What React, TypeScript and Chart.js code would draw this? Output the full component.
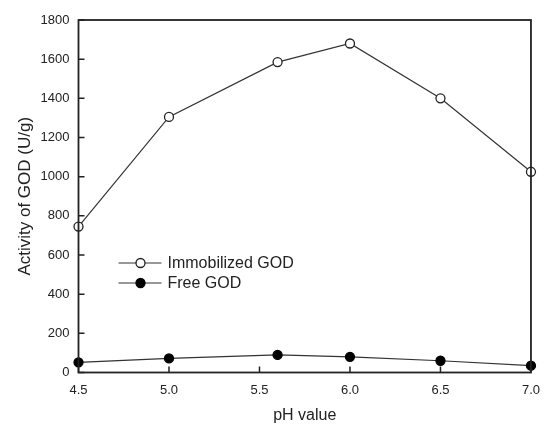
import React, { useEffect, useRef } from "react";
import { Chart, registerables } from "chart.js";

Chart.register(...registerables);

const phValues = [4.5, 5.0, 5.6, 6.0, 6.5, 7.0];
const immobilized = [745, 1305, 1585, 1680, 1400, 1025];
const free = [52, 72, 90, 80, 60, 35];
const seriesNames = ["Immobilized GOD", "Free GOD"];
const xTitle = "pH value";
const yTitle = "Activity of GOD (U/g)";

const FONT = "'Liberation Sans', Arial, sans-serif";
const INK = "#222";

const framePlugin = {
  id: "frameTicks",
  afterDraw(chart: any) {
    const { ctx, chartArea: a, scales } = chart;
    ctx.save();
    ctx.strokeStyle = INK;
    ctx.lineWidth = 1.5;
    ctx.beginPath();
    scales.x.ticks.forEach((t: any) => {
      const px = scales.x.getPixelForValue(t.value);
      ctx.moveTo(px, a.bottom);
      ctx.lineTo(px, a.bottom - 6);
    });
    scales.y.ticks.forEach((t: any) => {
      const py = scales.y.getPixelForValue(t.value);
      ctx.moveTo(a.left, py);
      ctx.lineTo(a.left + 6, py);
    });
    ctx.stroke();
    ctx.lineWidth = 1.8;
    ctx.strokeRect(a.left, a.top, a.right - a.left, a.bottom - a.top);

    const lx = a.left + 40;
    let ly = a.top + 243;
    ctx.font = `16px ${FONT}`;
    ctx.textBaseline = "middle";
    ctx.textAlign = "left";
    chart.data.datasets.forEach((ds: any) => {
      ctx.strokeStyle = ds.borderColor;
      ctx.lineWidth = ds.borderWidth;
      ctx.beginPath();
      ctx.moveTo(lx, ly);
      ctx.lineTo(lx + 43, ly);
      ctx.stroke();
      ctx.beginPath();
      ctx.arc(lx + 22, ly, 4.5, 0, Math.PI * 2);
      ctx.fillStyle = ds.pointBackgroundColor;
      ctx.fill();
      ctx.lineWidth = 1.3;
      ctx.strokeStyle = ds.pointBorderColor;
      ctx.stroke();
      ctx.fillStyle = INK;
      ctx.fillText(ds.label, lx + 49, ly + 1);
      ly += 20;
    });
    ctx.restore();
  },
};

export default function App() {
  const ref = useRef<HTMLCanvasElement>(null);
  useEffect(() => {
    document.body.style.margin = "0";
    const chart = new Chart(ref.current as HTMLCanvasElement, {
      type: "line",
      data: {
        datasets: [
          {
            label: seriesNames[0],
            data: phValues.map((x, i) => ({ x, y: immobilized[i] })),
            borderColor: "#333",
            borderWidth: 1.2,
            pointBackgroundColor: "#fff",
            pointBorderColor: "#222",
            pointBorderWidth: 1.3,
            pointRadius: 4.5,
            clip: false as any,
          },
          {
            label: seriesNames[1],
            data: phValues.map((x, i) => ({ x, y: free[i] })),
            borderColor: "#333",
            borderWidth: 1.2,
            pointBackgroundColor: "#000",
            pointBorderColor: "#000",
            pointBorderWidth: 1.3,
            pointRadius: 4.5,
            clip: false as any,
          },
        ],
      },
      options: {
        animation: false,
        responsive: false,
        layout: { padding: { top: 20, right: 11, left: 0, bottom: 0 } },
        plugins: { legend: { display: false }, tooltip: { enabled: false } },
        scales: {
          x: {
            type: "linear",
            min: 4.5,
            max: 7,
            ticks: {
              stepSize: 0.5,
              callback: (v: any) => Number(v).toFixed(1),
              font: { family: FONT, size: 13 },
              color: INK,
              padding: 10,
              maxRotation: 0,
            },
            grid: { display: false, drawTicks: false, tickLength: 0 },
            border: { display: false },
            title: {
              display: true,
              text: xTitle,
              font: { family: FONT, size: 16 },
              color: INK,
              padding: { top: 0, bottom: 1 },
            },
            afterFit: (s: any) => {
              s.height = 53.5;
            },
          },
          y: {
            min: 0,
            max: 1800,
            ticks: {
              stepSize: 200,
              callback: (v: any) => String(v),
              font: { family: FONT, size: 13 },
              color: INK,
              padding: 9,
            },
            grid: { display: false, drawTicks: false, tickLength: 0 },
            border: { display: false },
            title: {
              display: true,
              text: yTitle,
              font: { family: FONT, size: 17 },
              color: INK,
              padding: { top: 15, bottom: 0 },
            },
            afterFit: (s: any) => {
              s.width = 78.5;
            },
          },
        },
      },
      plugins: [framePlugin],
    });
    return () => chart.destroy();
  }, []);
  return <canvas ref={ref} width={550} height={426} />;
}
